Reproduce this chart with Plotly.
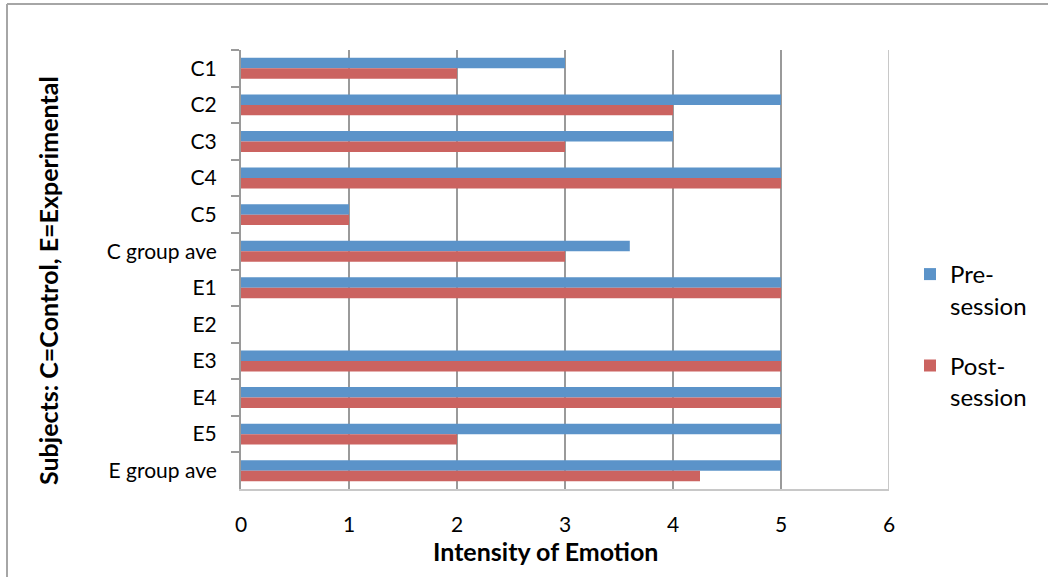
import plotly.graph_objects as go

subjects = ["C1", "C2", "C3", "C4", "C5", "C group ave",
            "E1", "E2", "E3", "E4", "E5", "E group ave"]
pre_session = [3, 5, 4, 5, 1, 3.6, 5, 0, 5, 5, 5, 5]
post_session = [2, 4, 3, 5, 1, 3, 5, 0, 5, 5, 2, 4.25]
x_ticks = [0, 1, 2, 3, 4, 5, 6]

FONT = "Lato, 'Open Sans', sans-serif"
BLUE = "#5B93C9"
RED = "#CB6360"
GRID = "#9a9a9a"

W, H = 1048, 577
L, R, T, B = 241, 159, 50, 88
pw, ph = W - L - R, H - T - B


def px_x(x):
    return (x - L) / pw


def px_y(y):
    return (H - B - y) / ph


fig = go.Figure()
fig.add_trace(go.Bar(
    y=subjects, x=pre_session, orientation="h", name="Pre-<br>session",
    legendgroup="pre",
    marker=dict(color=BLUE, line=dict(width=0)),
))
fig.add_trace(go.Bar(
    y=subjects, x=post_session, orientation="h", name="Post-<br>session",
    legendgroup="post",
    marker=dict(color=RED, line=dict(width=0)),
))

fig.update_layout(
    width=W, height=H,
    margin=dict(l=L, r=R, t=T, b=B),
    paper_bgcolor="white", plot_bgcolor="white",
    barmode="group", bargap=0.43, bargroupgap=0,
    font=dict(family=FONT, size=20, color="#000"),
    showlegend=True,
    legend=dict(
        x=px_x(910), y=px_y(252), xanchor="left", yanchor="top",
        valign="top",
        font=dict(family=FONT, size=24, color="#000"),
        tracegroupgap=26, itemwidth=30,
        bgcolor="rgba(0,0,0,0)",
    ),
    xaxis=dict(
        range=[0, 6], tickvals=x_ticks, ticks="", showgrid=True,
        gridcolor=GRID, gridwidth=2, zeroline=False,
        showline=True, linecolor="#c8c8c8", linewidth=2, mirror=False,
        ticklabelstandoff=16,
        tickfont=dict(family=FONT, size=21),
    ),
    yaxis=dict(
        categoryorder="array", categoryarray=subjects,
        autorange="reversed",
        showline=True, linecolor=GRID, linewidth=2,
        ticks="outside", ticklen=8, tickcolor=GRID, tickwidth=2,
        tickson="boundaries", ticklabelstandoff=18,
        showgrid=False,
        tickfont=dict(family=FONT, size=21),
    ),
)

# axis titles
fig.add_annotation(
    text="<b>Intensity of Emotion</b>", xref="paper", yref="paper",
    x=px_x(545), y=px_y(551), xanchor="center", yanchor="middle",
    showarrow=False, font=dict(family=FONT, size=25, color="#000"),
)
fig.add_annotation(
    text="<b>Subjects: C=Control, E=Experimental</b>", xref="paper",
    yref="paper", x=px_x(48), y=px_y(281), xanchor="center",
    yanchor="middle", textangle=-90, showarrow=False,
    font=dict(family=FONT, size=25, color="#000"),
)

# right edge of plot area
fig.add_shape(type="line", xref="x", yref="paper", x0=6, x1=6, y0=0, y1=1,
              line=dict(color="#c8c8c8", width=2))

# chart frame (left and top edges)
fx0 = px_x(7)
fy_top = px_y(4)
fig.add_shape(type="line", xref="paper", yref="paper",
              x0=fx0, x1=px_x(W) + 0.01, y0=fy_top, y1=fy_top,
              line=dict(color="#a6a6a6", width=2))
fig.add_shape(type="line", xref="paper", yref="paper",
              x0=fx0, x1=fx0, y0=fy_top, y1=px_y(H) - 0.01,
              line=dict(color="#a6a6a6", width=2))

fig.write_html("out.html")
